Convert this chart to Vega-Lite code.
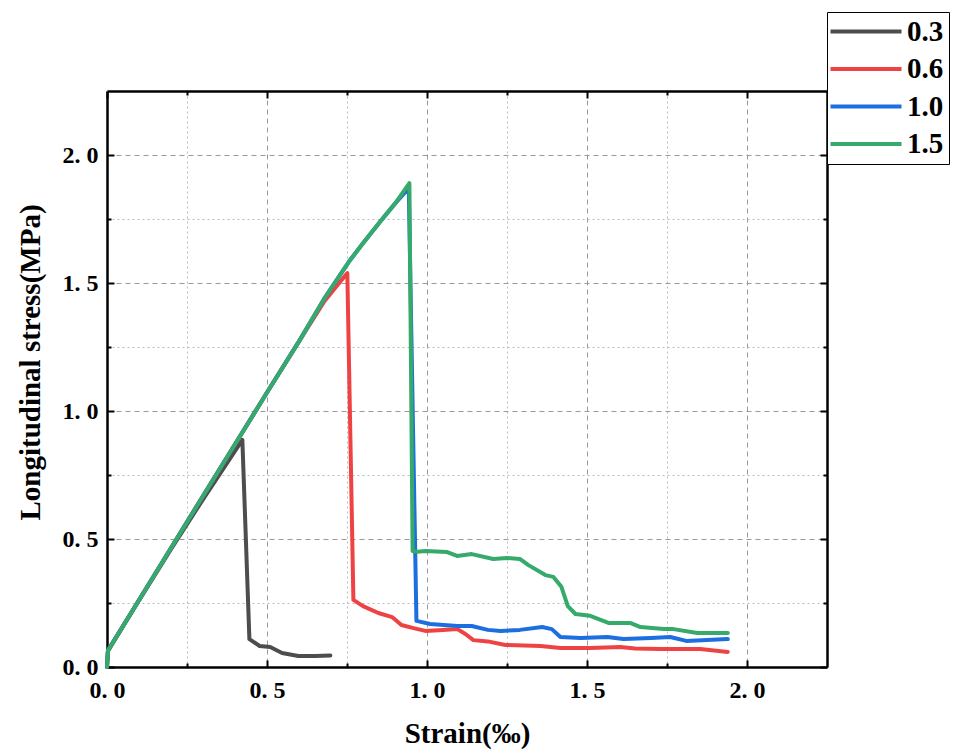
{
  "$schema": "https://vega.github.io/schema/vega-lite/v6.json",
  "width": 720,
  "height": 576,
  "autosize": "none",
  "padding": {"left": 107, "top": 91, "right": 128, "bottom": 87},
  "background": "white",
  "config": {
    "view": {"stroke": null},
    "legend": {
      "orient": "none",
      "legendX": 720,
      "legendY": -79,
      "symbolType": "M-1.6,0H5.5",
      "symbolSize": 400,
      "symbolStrokeWidth": 4,
      "labelFont": "Liberation Serif",
      "labelFontSize": 29,
      "labelFontWeight": "bold",
      "labelColor": "black",
      "strokeColor": "black",
      "fillColor": "white",
      "padding": 5,
      "rowPadding": 7.5,
      "labelOffset": 46
    }
  },
  "data": {"values": [
    {"s": "0.3", "x": 0, "y": 0}, {"s": "0.3", "x": 0.003, "y": 0.064}, {"s": "0.3", "x": 0.1, "y": 0.26}, {"s": "0.3", "x": 0.2, "y": 0.46}, {"s": "0.3", "x": 0.3, "y": 0.655}, {"s": "0.3", "x": 0.423, "y": 0.887}, {"s": "0.3", "x": 0.445, "y": 0.109}, {"s": "0.3", "x": 0.477, "y": 0.082}, {"s": "0.3", "x": 0.51, "y": 0.078}, {"s": "0.3", "x": 0.547, "y": 0.055}, {"s": "0.3", "x": 0.598, "y": 0.043}, {"s": "0.3", "x": 0.65, "y": 0.043}, {"s": "0.3", "x": 0.698, "y": 0.045},
    {"s": "0.6", "x": 0, "y": 0}, {"s": "0.6", "x": 0.003, "y": 0.064}, {"s": "0.6", "x": 0.1, "y": 0.262}, {"s": "0.6", "x": 0.2, "y": 0.465}, {"s": "0.6", "x": 0.3, "y": 0.668}, {"s": "0.6", "x": 0.4, "y": 0.87}, {"s": "0.6", "x": 0.5, "y": 1.072}, {"s": "0.6", "x": 0.6, "y": 1.272}, {"s": "0.6", "x": 0.68, "y": 1.43}, {"s": "0.6", "x": 0.751, "y": 1.539}, {"s": "0.6", "x": 0.77, "y": 0.262}, {"s": "0.6", "x": 0.8, "y": 0.238}, {"s": "0.6", "x": 0.848, "y": 0.211}, {"s": "0.6", "x": 0.891, "y": 0.195}, {"s": "0.6", "x": 0.92, "y": 0.164}, {"s": "0.6", "x": 0.958, "y": 0.152}, {"s": "0.6", "x": 0.995, "y": 0.141}, {"s": "0.6", "x": 1.05, "y": 0.145}, {"s": "0.6", "x": 1.095, "y": 0.148}, {"s": "0.6", "x": 1.12, "y": 0.129}, {"s": "0.6", "x": 1.145, "y": 0.105}, {"s": "0.6", "x": 1.19, "y": 0.1}, {"s": "0.6", "x": 1.245, "y": 0.086}, {"s": "0.6", "x": 1.355, "y": 0.082}, {"s": "0.6", "x": 1.417, "y": 0.074}, {"s": "0.6", "x": 1.51, "y": 0.074}, {"s": "0.6", "x": 1.604, "y": 0.078}, {"s": "0.6", "x": 1.65, "y": 0.072}, {"s": "0.6", "x": 1.729, "y": 0.07}, {"s": "0.6", "x": 1.854, "y": 0.07}, {"s": "0.6", "x": 1.94, "y": 0.059},
    {"s": "1.0", "x": 0, "y": 0}, {"s": "1.0", "x": 0.003, "y": 0.064}, {"s": "1.0", "x": 0.1, "y": 0.262}, {"s": "1.0", "x": 0.2, "y": 0.465}, {"s": "1.0", "x": 0.3, "y": 0.668}, {"s": "1.0", "x": 0.4, "y": 0.87}, {"s": "1.0", "x": 0.5, "y": 1.072}, {"s": "1.0", "x": 0.6, "y": 1.272}, {"s": "1.0", "x": 0.682, "y": 1.445}, {"s": "1.0", "x": 0.76, "y": 1.59}, {"s": "1.0", "x": 0.8, "y": 1.655}, {"s": "1.0", "x": 0.854, "y": 1.74}, {"s": "1.0", "x": 0.9, "y": 1.81}, {"s": "1.0", "x": 0.943, "y": 1.87}, {"s": "1.0", "x": 0.967, "y": 0.18}, {"s": "1.0", "x": 1.01, "y": 0.168}, {"s": "1.0", "x": 1.095, "y": 0.16}, {"s": "1.0", "x": 1.14, "y": 0.16}, {"s": "1.0", "x": 1.19, "y": 0.145}, {"s": "1.0", "x": 1.23, "y": 0.141}, {"s": "1.0", "x": 1.29, "y": 0.145}, {"s": "1.0", "x": 1.36, "y": 0.156}, {"s": "1.0", "x": 1.39, "y": 0.148}, {"s": "1.0", "x": 1.417, "y": 0.117}, {"s": "1.0", "x": 1.48, "y": 0.113}, {"s": "1.0", "x": 1.564, "y": 0.117}, {"s": "1.0", "x": 1.614, "y": 0.109}, {"s": "1.0", "x": 1.7, "y": 0.113}, {"s": "1.0", "x": 1.76, "y": 0.117}, {"s": "1.0", "x": 1.81, "y": 0.102}, {"s": "1.0", "x": 1.94, "y": 0.109},
    {"s": "1.5", "x": 0, "y": 0}, {"s": "1.5", "x": 0.003, "y": 0.064}, {"s": "1.5", "x": 0.1, "y": 0.262}, {"s": "1.5", "x": 0.2, "y": 0.465}, {"s": "1.5", "x": 0.3, "y": 0.668}, {"s": "1.5", "x": 0.4, "y": 0.87}, {"s": "1.5", "x": 0.5, "y": 1.072}, {"s": "1.5", "x": 0.6, "y": 1.272}, {"s": "1.5", "x": 0.682, "y": 1.445}, {"s": "1.5", "x": 0.76, "y": 1.59}, {"s": "1.5", "x": 0.8, "y": 1.655}, {"s": "1.5", "x": 0.854, "y": 1.74}, {"s": "1.5", "x": 0.9, "y": 1.81}, {"s": "1.5", "x": 0.945, "y": 1.89}, {"s": "1.5", "x": 0.955, "y": 0.453}, {"s": "1.5", "x": 0.97, "y": 0.45}, {"s": "1.5", "x": 0.995, "y": 0.453}, {"s": "1.5", "x": 1.063, "y": 0.449}, {"s": "1.5", "x": 1.094, "y": 0.434}, {"s": "1.5", "x": 1.14, "y": 0.441}, {"s": "1.5", "x": 1.207, "y": 0.422}, {"s": "1.5", "x": 1.25, "y": 0.426}, {"s": "1.5", "x": 1.29, "y": 0.422}, {"s": "1.5", "x": 1.317, "y": 0.398}, {"s": "1.5", "x": 1.37, "y": 0.359}, {"s": "1.5", "x": 1.395, "y": 0.352}, {"s": "1.5", "x": 1.42, "y": 0.313}, {"s": "1.5", "x": 1.44, "y": 0.238}, {"s": "1.5", "x": 1.464, "y": 0.207}, {"s": "1.5", "x": 1.51, "y": 0.2}, {"s": "1.5", "x": 1.567, "y": 0.172}, {"s": "1.5", "x": 1.635, "y": 0.172}, {"s": "1.5", "x": 1.667, "y": 0.156}, {"s": "1.5", "x": 1.74, "y": 0.148}, {"s": "1.5", "x": 1.77, "y": 0.148}, {"s": "1.5", "x": 1.845, "y": 0.133}, {"s": "1.5", "x": 1.94, "y": 0.133}
  ]},
  "layer": [
    {
      "mark": {"type": "point", "opacity": 0},
      "encoding": {
        "x": {"field": "x", "type": "quantitative", "scale": {"domain": [0, 2.25], "nice": false},
          "axis": {"orient": "top", "values": [0, 0.25, 0.5, 0.75, 1, 1.25, 1.5, 1.75, 2], "grid": false, "labels": false, "title": null,
            "domainColor": "black", "domainWidth": 2.5, "tickColor": "black", "tickWidth": 2,
            "tickSize": {"condition": {"test": "round(datum.value*2) == datum.value*2", "value": -7}, "value": -4}}},
        "y": {"field": "y", "type": "quantitative", "scale": {"domain": [0, 2.25], "nice": false},
          "axis": {"orient": "right", "values": [0, 0.25, 0.5, 0.75, 1, 1.25, 1.5, 1.75, 2], "grid": false, "labels": false, "title": null,
            "domainColor": "black", "domainWidth": 2.5, "tickColor": "black", "tickWidth": 2,
            "tickSize": {"condition": {"test": "round(datum.value*2) == datum.value*2", "value": -7}, "value": -4}}}
      }
    },
    {
      "mark": {"type": "line", "strokeWidth": 4, "strokeCap": "round", "strokeJoin": "round"},
      "encoding": {
        "x": {"field": "x", "type": "quantitative", "scale": {"domain": [0, 2.25], "nice": false},
          "axis": {"orient": "bottom", "values": [0, 0.25, 0.5, 0.75, 1, 1.25, 1.5, 1.75, 2],
            "title": "Strain(‰)", "titleFont": "Liberation Serif", "titleFontSize": 29, "titleFontWeight": "bold", "titleColor": "black",
            "titleX": 360, "titleY": 75, "titleBaseline": "alphabetic",
            "labelExpr": "round(datum.value*2) == datum.value*2 ? replace(format(datum.value, '.1f'), '.', '. ') : ''",
            "labelFont": "Liberation Serif", "labelFontSize": 24, "labelFontWeight": "bold", "labelColor": "black", "labelPadding": 18, "labelFlush": false, "labelOverlap": false,
            "domainColor": "black", "domainWidth": 2.5, "tickColor": "black", "tickWidth": 2,
            "tickSize": {"condition": {"test": "round(datum.value*2) == datum.value*2", "value": -7}, "value": -4},
            "grid": true, "gridWidth": 1,
            "gridColor": {"condition": {"test": "round(datum.value*2) == datum.value*2", "value": "#999999"}, "value": "#bbbbbb"},
            "gridDash": {"condition": {"test": "round(datum.value*2) == datum.value*2", "value": [5, 4]}, "value": [2, 3]},
            "gridOpacity": {"condition": {"test": "datum.value == 0", "value": 0}, "value": 1}}},
        "y": {"field": "y", "type": "quantitative", "scale": {"domain": [0, 2.25], "nice": false},
          "axis": {"orient": "left", "values": [0, 0.25, 0.5, 0.75, 1, 1.25, 1.5, 1.75, 2],
            "title": "Longitudinal stress(MPa)", "titleFont": "Liberation Serif", "titleFontSize": 29, "titleFontWeight": "bold", "titleColor": "black",
            "titleX": -68, "titleY": 271, "titleBaseline": "alphabetic", "titleAngle": -90, "titleAlign": "center",
            "labelExpr": "round(datum.value*2) == datum.value*2 ? replace(format(datum.value, '.1f'), '.', '. ') : ''",
            "labelFont": "Liberation Serif", "labelFontSize": 24, "labelFontWeight": "bold", "labelColor": "black", "labelPadding": 16, "labelFlush": false, "labelOverlap": false,
            "domainColor": "black", "domainWidth": 2.5, "tickColor": "black", "tickWidth": 2,
            "tickSize": {"condition": {"test": "round(datum.value*2) == datum.value*2", "value": -7}, "value": -4},
            "grid": true, "gridWidth": 1,
            "gridColor": {"condition": {"test": "round(datum.value*2) == datum.value*2", "value": "#999999"}, "value": "#bbbbbb"},
            "gridDash": {"condition": {"test": "round(datum.value*2) == datum.value*2", "value": [5, 4]}, "value": [2, 3]},
            "gridOpacity": {"condition": {"test": "datum.value == 0", "value": 0}, "value": 1}}},
        "color": {"field": "s", "type": "nominal", "sort": ["0.3", "0.6", "1.0", "1.5"],
          "scale": {"domain": ["0.3", "0.6", "1.0", "1.5"], "range": ["#4d4d4d", "#ef4343", "#1d6fdf", "#36aa6a"]},
          "legend": {"title": null}}
      }
    }
  ],
  "resolve": {"axis": {"x": "independent", "y": "independent"}}
}
